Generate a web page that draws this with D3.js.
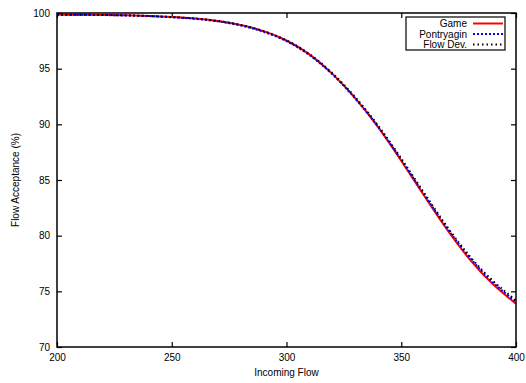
<!DOCTYPE html>
<html><head><meta charset="utf-8">
<script src="https://cdn.jsdelivr.net/npm/d3@7"></script>
<style>body{margin:0;background:#fff;} text{font-family:"Liberation Sans",Arial,sans-serif;}</style>
</head><body><svg id="c" width="526" height="383"></svg>
<script>
const flows = [200,210,220,230,240,250,260,270,280,290,300,310,320,330,340,350,360,370,380,390,400];
const game =       [99.85,99.84,99.82,99.79,99.73,99.64,99.51,99.29,98.93,98.37,97.53,96.28,94.53,92.33,89.73,86.73,83.58,80.53,77.83,75.63,73.88];
const pontryagin = [99.85,99.84,99.82,99.78,99.72,99.62,99.48,99.25,98.88,98.31,97.47,96.22,94.49,92.32,89.76,86.81,83.70,80.68,78.00,75.80,74.05];
const flowDev =    [99.85,99.84,99.82,99.79,99.73,99.64,99.51,99.29,98.93,98.37,97.54,96.31,94.59,92.43,89.87,86.93,83.83,80.80,78.12,75.93,74.20];
const seriesNames = ["Game","Pontryagin","Flow Dev."];
const xTicks = [200,250,300,350,400];
const yTicks = [70,75,80,85,90,95,100];

const svg = d3.select("#c");
const m = {l:57, r:10, t:13, b:36};
const W = 526, H = 383;
const x = d3.scaleLinear().domain([200,400]).range([m.l, W-m.r]);
const y = d3.scaleLinear().domain([70,100]).range([H-m.b, m.t]);
const FS = 10;

const tl = 5;
const gx = svg.append("g").attr("transform",`translate(0,${H-m.b})`)
  .call(d3.axisBottom(x).tickValues(xTicks).tickSize(-tl).tickPadding(7).tickFormat(d3.format("d")));
const gxt = svg.append("g").attr("transform",`translate(0,${m.t})`)
  .call(d3.axisTop(x).tickValues(xTicks).tickSize(-tl).tickFormat(""));
const gy = svg.append("g").attr("transform",`translate(${m.l},0)`)
  .call(d3.axisLeft(y).tickValues(yTicks).tickSize(-tl).tickPadding(7).tickFormat(d3.format("d")));
const gyr = svg.append("g").attr("transform",`translate(${W-m.r},0)`)
  .call(d3.axisRight(y).tickValues(yTicks).tickSize(-tl).tickFormat(""));
[gx,gxt,gy,gyr].forEach(g=>{
  g.select(".domain").remove();
  g.selectAll(".tick line").attr("stroke","#000").attr("stroke-width",1.2);
  g.selectAll("text").attr("font-size",FS).attr("fill","#000").attr("font-family","Liberation Sans, Arial, sans-serif");
});

const data = [game, pontryagin, flowDev];
const styles = [
  {c:"#ff0000", w:2, d:null},
  {c:"#0000ff", w:2, d:"2,2"},
  {c:"#000000", w:2, d:"1.5,3"}
];
const line = d3.line().x((d,i)=>x(flows[i])).y(d=>y(d)).curve(d3.curveNatural);
svg.append("clipPath").attr("id","cp").append("rect")
  .attr("x",m.l).attr("y",m.t).attr("width",W-m.r-m.l).attr("height",H-m.b-m.t);
data.forEach((s,i)=>{
  svg.append("path").datum(s).attr("d",line).attr("fill","none")
    .attr("stroke",styles[i].c).attr("stroke-width",styles[i].w)
    .attr("stroke-dasharray",styles[i].d).attr("clip-path","url(#cp)");
});

svg.append("rect").attr("x",m.l).attr("y",m.t).attr("width",W-m.r-m.l).attr("height",H-m.b-m.t)
  .attr("fill","none").attr("stroke","#000").attr("stroke-width",1.5);

const lg = svg.append("g");
lg.append("rect").attr("x",406).attr("y",17).attr("width",99).attr("height",33)
  .attr("fill","#fff").attr("stroke","#000").attr("stroke-width",1.2);
seriesNames.forEach((n,i)=>{
  const yy = 23.5 + i*10.5;
  lg.append("text").attr("x",467).attr("y",yy).attr("dy","0.35em").attr("text-anchor","end")
    .attr("font-size",FS).text(n);
  lg.append("line").attr("x1",473).attr("x2",503).attr("y1",yy).attr("y2",yy)
    .attr("stroke",styles[i].c).attr("stroke-width",styles[i].w).attr("stroke-dasharray",styles[i].d);
});

svg.append("text").attr("x",(m.l+W-m.r)/2).attr("y",375.5).attr("text-anchor","middle")
  .attr("font-size",FS).text("Incoming Flow");
svg.append("text").attr("transform",`translate(19,${(m.t+H-m.b)/2}) rotate(-90)`)
  .attr("text-anchor","middle").attr("font-size",FS).text("Flow Acceptance (%)");
</script></body></html>
